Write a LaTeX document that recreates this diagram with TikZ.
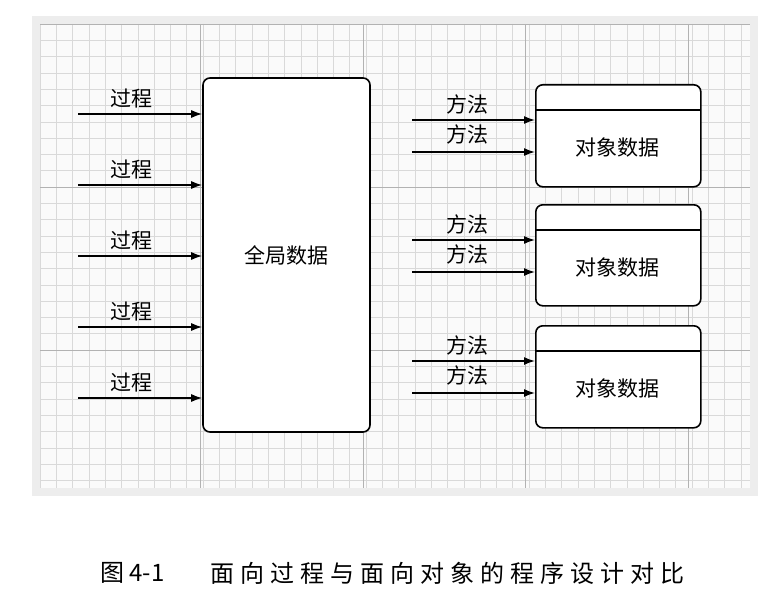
\documentclass[tikz,border=0pt]{standalone}
\usepackage{fontspec}
\newfontfamily\cjk{Noto Sans CJK SC}
\newfontfamily\cjkw[LetterSpace=25]{Noto Sans CJK SC}
\usetikzlibrary{arrows.meta}
\begin{document}
\begin{tikzpicture}[x=1pt,y=-1pt,
  lbl/.style={font=\cjk\fontsize{21}{24}\selectfont,inner sep=0pt},
  bigbox/.style={draw,line width=1.6pt,rounded corners=7pt,fill=white},
  arr/.style={line width=1.5pt,-{Latex[length=11pt,width=8pt]}}]
\useasboundingbox (0,0) rectangle (779,591);
\fill[white] (0,0) rectangle (779,591);
% grid background
\fill[gray!14] (32,16) rectangle (758,496);
\fill[gray!4] (40,24) rectangle (750,488);
\foreach \k in {0,...,43} \draw[gray!30,line width=0.5pt] ({40+16.3*\k},24) -- ({40+16.3*\k},488);
\foreach \k in {0,...,28} \draw[gray!30,line width=0.5pt] (40,{24+16.3*\k}) -- (750,{24+16.3*\k});
\foreach \x in {200,363,525,688} \draw[gray!60,line width=0.7pt] (\x,24) -- (\x,488);
\foreach \y in {24,187,350} \draw[gray!60,line width=0.7pt] (40,\y) -- (750,\y);
% global data
\node[bigbox,minimum width=167pt,minimum height=354pt,lbl] (g) at (286.5,255) {全局数据};
\foreach \i/\y in {1/114,2/185,3/256,4/327,5/398}{
  \coordinate (s\i) at (78,\y);
  \draw[arr] (s\i) -- (s\i -| g.west);
  \node[lbl] (p\i) at (131,\y-15) {过程};
}
% objects
\foreach \i/\t/\b in {1/84/186,2/204/305,3/325/427}{
  \node[bigbox,minimum width=165pt,minimum height={\b-\t},anchor=north west] (o\i) at (535,\t) {};
  \draw[line width=1.2pt] (535,\t+26) -- (700,\t+26);
  \node[lbl] (d\i) at (617.5,{(\t+26+\b)/2}) {对象数据};
  \coordinate (a\i) at (412,\t+36);
  \coordinate (b\i) at (412,\t+68);
  \draw[arr] (a\i) -- (a\i -| o\i.west);
  \draw[arr] (b\i) -- (b\i -| o\i.west);
  \node[lbl] (ma\i) at (467,\t+20) {方法};
  \node[lbl] (mb\i) at (467,\t+50) {方法};
}
\node[inner sep=0pt,anchor=west,font=\cjk\fontsize{24}{28}\selectfont] (cap) at (100,573) {图 4-1};
\node[inner sep=0pt,anchor=west,font=\cjkw\fontsize{24}{28}\selectfont] (cap2) at (210,573) {面向过程与面向对象的程序设计对比};
\end{tikzpicture}
\end{document}
